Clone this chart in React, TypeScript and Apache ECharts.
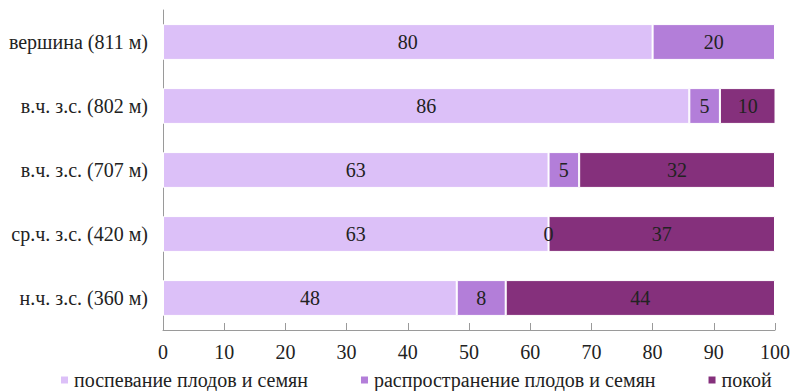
import React, { useEffect, useRef } from "react";
import * as echarts from "echarts";

const categories = [
  "н.ч. з.с. (360 м)",
  "ср.ч. з.с. (420 м)",
  "в.ч. з.с. (707 м)",
  "в.ч. з.с. (802 м)",
  "вершина (811 м)",
];
const seriesNames = [
  "поспевание плодов и семян",
  "распространение плодов и семян",
  "покой",
];
const ripening = [48, 63, 63, 86, 80];
const dispersal = [8, 0, 5, 5, 20];
const dormancy = [44, 37, 32, 10, null];
const xTicks = [0, 10, 20, 30, 40, 50, 60, 70, 80, 90, 100];

const colors = ["#dcc0f8", "#b37ed9", "#85307c"];
const FONT = "Liberation Serif";
const FS = 20;

export default function App() {
  const ref = useRef<HTMLDivElement>(null);
  useEffect(() => {
    if (!ref.current) return;
    const chart = echarts.init(ref.current, null, { renderer: "svg" });
    const dataSets = [ripening, dispersal, dormancy];
    chart.setOption({
      animation: false,
      textStyle: { fontFamily: FONT },
      grid: { left: 163, right: 16, top: 10, bottom: 61, containLabel: false },
      legend: {
        top: 365,
        left: 54,
        itemWidth: 9,
        itemHeight: 9,
        itemGap: 51,
        icon: "rect",
        textStyle: { fontFamily: FONT, fontSize: FS, color: "#222" },
        data: seriesNames,
      },
      xAxis: {
        type: "value",
        min: xTicks[0],
        max: xTicks[xTicks.length - 1],
        interval: 10,
        axisLine: { show: true, lineStyle: { color: "#9a9a9a" } },
        axisTick: { show: true, inside: true, length: 7, lineStyle: { color: "#9a9a9a" } },
        splitLine: { show: false },
        axisLabel: { fontFamily: FONT, fontSize: FS, color: "#222", margin: 12 },
      },
      yAxis: {
        type: "category",
        data: categories,
        axisLine: { show: true, lineStyle: { color: "#9a9a9a" } },
        axisTick: { show: false },
        axisLabel: { fontFamily: FONT, fontSize: FS, color: "#222", margin: 15 },
      },
      series: seriesNames.map((name, i) => ({
        name,
        type: "bar",
        stack: "total",
        barWidth: "56%",
        itemStyle: { color: colors[i], borderColor: "#ffffff", borderWidth: 1 },
        label: {
          show: true,
          position: "inside",
          fontFamily: FONT,
          fontSize: FS,
          color: "#222",
          formatter: (p: any) => (p.value === null || p.value === undefined ? "" : String(p.value)),
        },
        data: dataSets[i],
      })),
    });
    return () => chart.dispose();
  }, []);
  return (
    <div
      ref={ref}
      style={{ position: "absolute", left: 0, top: 0, width: 793, height: 391 }}
    />
  );
}
